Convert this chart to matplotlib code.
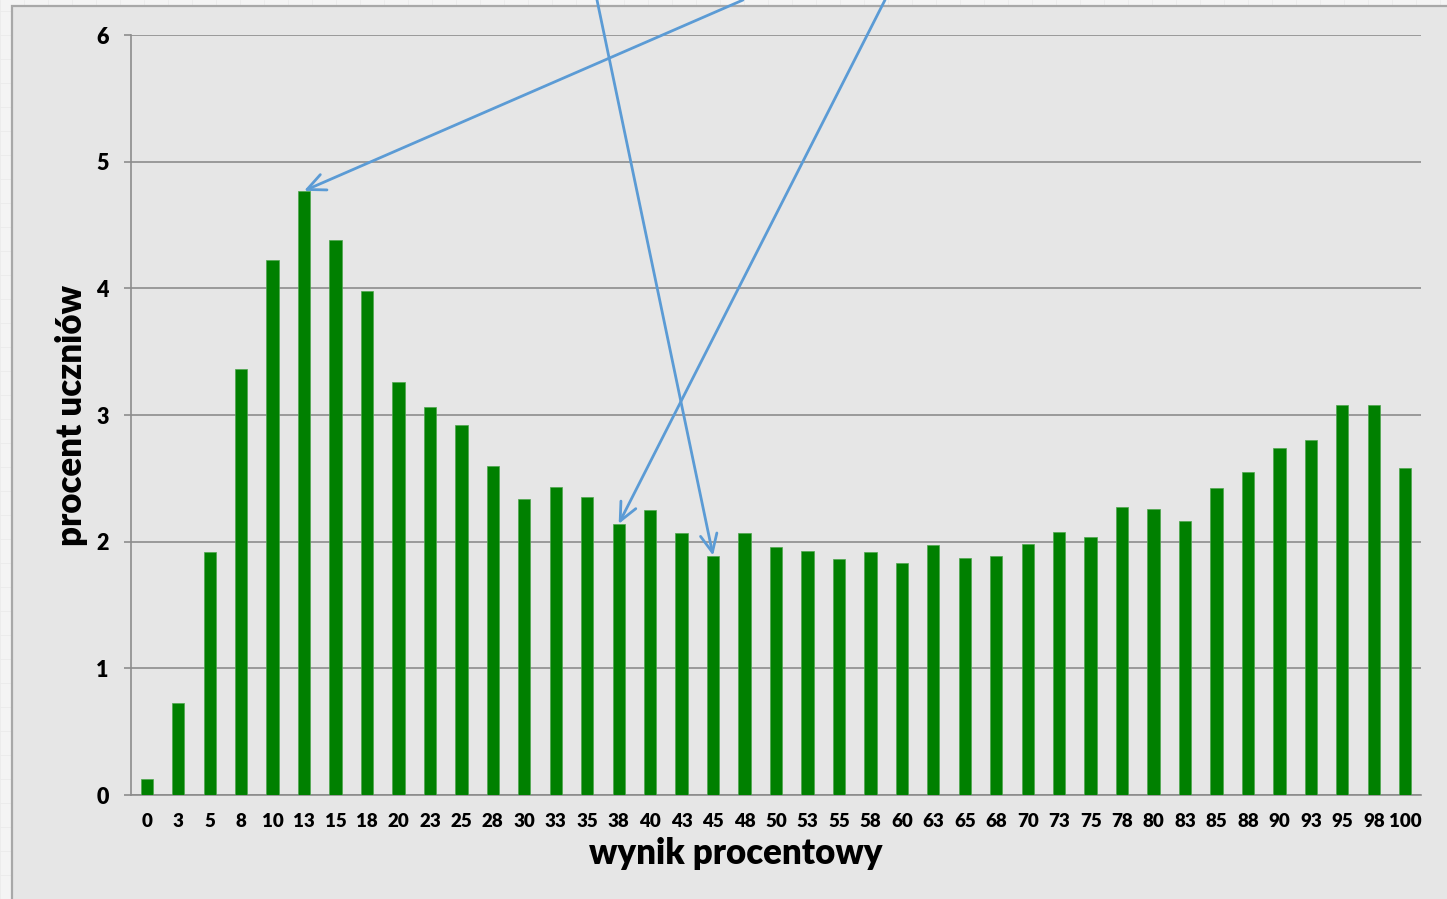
import matplotlib
matplotlib.use("Agg")
import matplotlib.pyplot as plt
from matplotlib.patches import Rectangle

plt.rcParams['font.family'] = ['Lato', 'DejaVu Sans']
plt.rcParams['font.weight'] = 'bold'

categories = ['0', '3', '5', '8', '10', '13', '15', '18', '20', '23', '25', '28', '30', '33',
              '35', '38', '40', '43', '45', '48', '50', '53', '55', '58', '60', '63', '65', '68',
              '70', '73', '75', '78', '80', '83', '85', '88', '90', '93', '95', '98', '100']
values = [0.13, 0.73, 1.92, 3.36, 4.22, 4.77, 4.38, 3.98, 3.26, 3.06, 2.92, 2.60, 2.34, 2.43,
          2.35, 2.14, 2.25, 2.07, 1.89, 2.07, 1.96, 1.93, 1.86, 1.92, 1.83, 1.97, 1.87, 1.89,
          1.98, 2.08, 2.04, 2.27, 2.26, 2.16, 2.42, 2.55, 2.74, 2.80, 3.08, 3.08, 2.58]
yticks = [0, 1, 2, 3, 4, 5, 6]
x_label = 'wynik procentowy'
y_label = 'procent uczniów'
# arrows: (target category, tail x in image pixels at top edge)
arrow_targets = ['13', '45', '38']
arrow_tails_px = [743, 597, 885]

W, H = 1447, 899
fig = plt.figure(figsize=(W / 100, H / 100), dpi=100)
fig.patch.set_facecolor('#f4f4f4')

# faint grid-paper background
for xv in range(0, W, 24):
    fig.add_artist(plt.Line2D([xv / W, xv / W], [0, 1], transform=fig.transFigure,
                              color='#ebebeb', lw=0.6, zorder=-3))
for yv in range(0, H, 24):
    fig.add_artist(plt.Line2D([0, 1], [yv / H, yv / H], transform=fig.transFigure,
                              color='#ebebeb', lw=0.6, zorder=-3))

# chart area
fig.add_artist(Rectangle((12 / W, -0.01), (W - 12 + 20) / W, (H - 6) / H + 0.01,
                         transform=fig.transFigure, facecolor='#e6e6e6',
                         edgecolor='#a8a8a8', lw=1.6, zorder=-2))

ax = fig.add_axes([131 / W, (H - 795) / H, 1290 / W, 760 / H])
ax.set_zorder(1)
ax.patch.set_alpha(0)

x = list(range(len(categories)))
ax.bar(x, values, width=0.39, color='#008000', edgecolor='#4da64d', linewidth=0.5, zorder=3)

ax.set_xlim(-0.5, len(categories) - 0.5)
ax.set_ylim(0, 6)
ax.set_yticks(yticks)
ax.set_yticklabels([str(t) for t in yticks], fontsize=15.5, fontweight='heavy')
ax.set_xticks(x)
ax.set_xticklabels(categories, fontsize=13.5, fontweight='heavy')
ax.tick_params(axis='x', length=0, pad=13)
ax.tick_params(axis='y', length=5, width=1.2, color='#8c8c8c', pad=11)
ax.grid(axis='y', color='#8c8c8c', lw=1.2, zorder=1)
for s in ['top', 'right']:
    ax.spines[s].set_visible(False)
ax.spines['left'].set_color('#8c8c8c')
ax.spines['bottom'].set_color('#8c8c8c')
ax.spines['left'].set_linewidth(1.2)
ax.spines['bottom'].set_linewidth(1.2)

fig.text(736 / W, 1 - 854 / H, x_label, ha='center', va='center', fontsize=25, fontweight='heavy')
fig.text(71 / W, 1 - 416 / H, y_label, ha='center', va='center', rotation=90,
         fontsize=25, fontweight='heavy')

for cat, tx in zip(arrow_targets, arrow_tails_px):
    i = categories.index(cat)
    ax.annotate('', xy=(i, values[i]), xycoords='data',
                xytext=(tx, H), textcoords='figure pixels',
                arrowprops=dict(arrowstyle='->,head_length=1.3,head_width=0.6',
                                color='#5b9bd5', lw=2.0, shrinkA=0, shrinkB=0),
                annotation_clip=False, zorder=5)

fig.savefig('out.png', dpi=100, facecolor=fig.get_facecolor())
